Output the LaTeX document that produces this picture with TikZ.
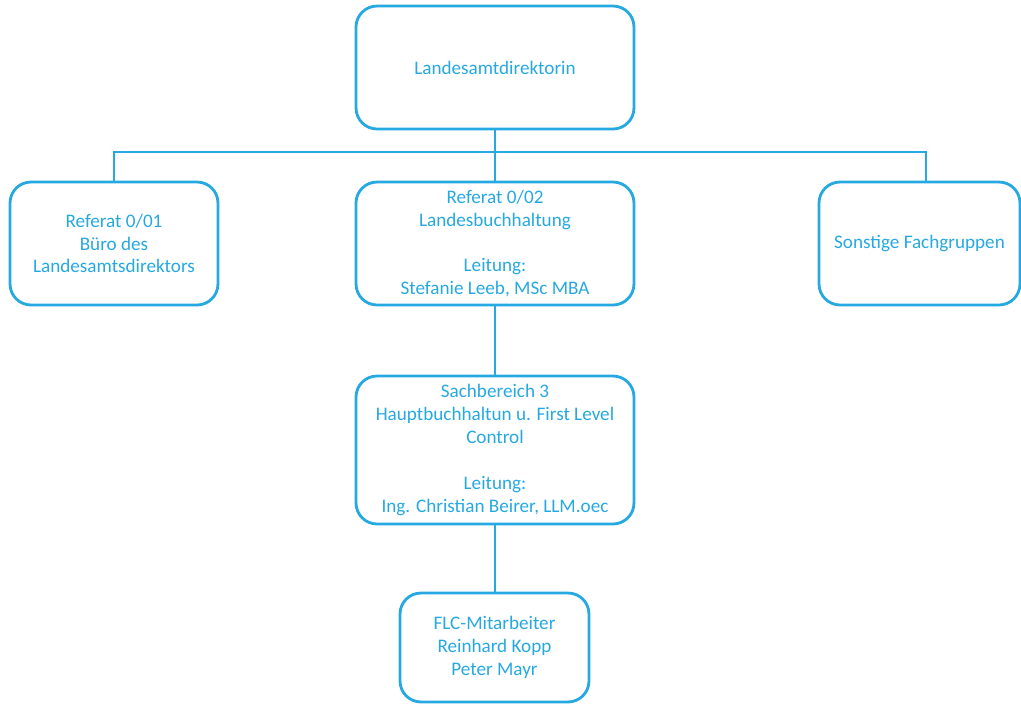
\documentclass[tikz,border=0pt]{standalone}
\usepackage{fontspec}
\setmainfont{Carlito}
\usepackage{tikz}
\usetikzlibrary{positioning}
\definecolor{orgblue}{RGB}{38,168,225}

\begin{document}
\begin{tikzpicture}[x=0.02cm,y=-0.02cm,
    box/.style={draw=orgblue,line width=1.6pt,rounded corners=0.42cm,
      text=orgblue,align=center,font=\fontsize{10.9pt}{13pt}\selectfont,inner sep=0pt},
    link/.style={draw=orgblue,line width=1.6pt}]
      \useasboundingbox (0,0) rectangle (1021,704);
      % first row
      \node[box,minimum width=5.56cm,minimum height=2.46cm] (lad) at (495,67.5) {Landesamtdirektorin};
      % second row
      \node[box,minimum width=4.16cm,minimum height=2.46cm] (ref1) at (114,243.5)
        {Referat 0/01\\Büro des\\Landesamtsdirektors};
      \node[box,minimum width=5.56cm,minimum height=2.46cm] (ref2) at (495,243.5)
        {Referat 0/02\\Landesbuchhaltung\\[13pt]Leitung:\\Stefanie Leeb, MSc MBA};
      \node[box,minimum width=4.02cm,minimum height=2.46cm] (sonst) at (919.5,243.5)
        {Sonstige Fachgruppen};
      % lower rows
      \node[box,minimum width=5.56cm,minimum height=2.96cm] (sb3) at (495,450)
        {Sachbereich 3\\Hauptbuchhaltun u. First Level\\Control\\[13pt]Leitung:\\Ing. Christian Beirer, LLM.oec};
      \node[box,minimum width=3.78cm,minimum height=2.18cm] (flc) at (494.5,647.5)
        {FLC-Mitarbeiter\\Reinhard Kopp\\Peter Mayr};
      % connectors
      \coordinate (tap) at (926,152);
      \draw[link] (lad.south) -- (ref2.north);
      \draw[link] (ref1.north) |- (tap) -- (tap |- sonst.north);
      \draw[link] (ref2.south) -- (sb3.north);
      \draw[link] (sb3.south) -- (sb3.south |- flc.north);
\end{tikzpicture}
\end{document}
